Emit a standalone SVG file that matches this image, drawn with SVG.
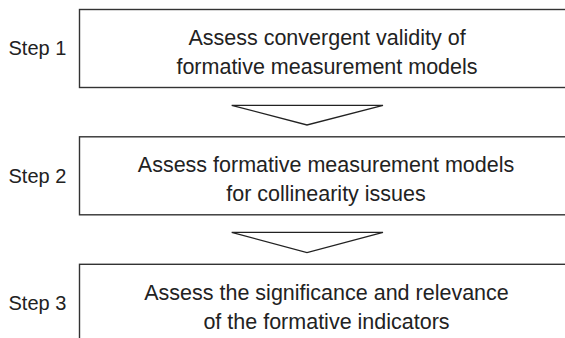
<svg xmlns="http://www.w3.org/2000/svg" width="565" height="338" viewBox="0 0 565 338">
<style>
.box{fill:#fff;stroke:#333;stroke-width:1.4}
.arr{fill:#fff;stroke:#222;stroke-width:1.3;stroke-linejoin:miter}
.t{font-family:"Liberation Sans",Arial,sans-serif;font-size:21.5px;fill:#222;text-anchor:middle}
.s{font-family:"Liberation Sans",Arial,sans-serif;font-size:20px;fill:#222}
</style>
<rect width="565" height="338" fill="#fff"/>
<g id="connectors">
<polygon class="arr" points="231.7,105.3 383,105.3 307,125"/>
<polygon class="arr" points="231.7,232.3 383,232.3 307,252.7"/>
</g>
<g id="step1">
<text class="s" x="8.5" y="54.5">Step 1</text>
<rect class="box" x="79.5" y="9.5" width="500" height="78"/>
<text class="t" x="327" y="45">Assess convergent validity of</text>
<text class="t" x="327" y="74">formative measurement models</text>
</g>
<g id="step2">
<text class="s" x="8.5" y="182.5">Step 2</text>
<rect class="box" x="79.5" y="136.8" width="500" height="78"/>
<text class="t" x="326" y="172">Assess formative measurement models</text>
<text class="t" x="326" y="201">for collinearity issues</text>
</g>
<g id="step3">
<text class="s" x="8.5" y="310">Step 3</text>
<rect class="box" x="79.5" y="264.3" width="500" height="100"/>
<text class="t" x="326.5" y="299.5">Assess the significance and relevance</text>
<text class="t" x="326.5" y="328.5">of the formative indicators</text>
</g>
</svg>
